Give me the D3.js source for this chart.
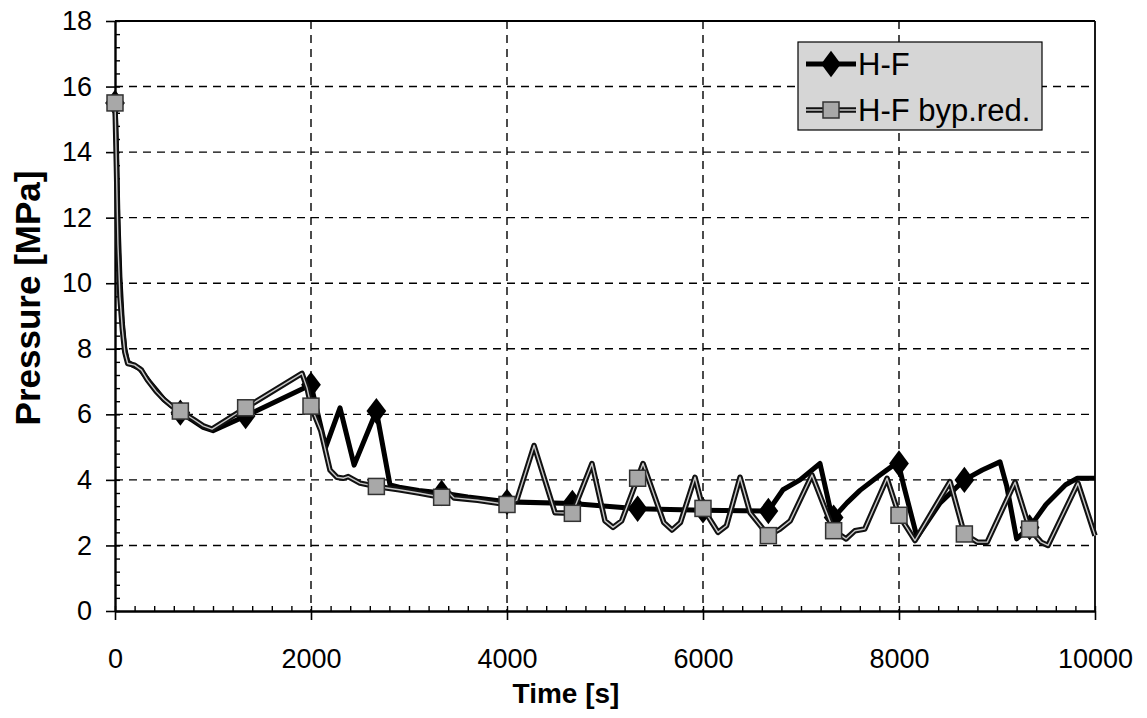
<!DOCTYPE html>
<html>
<head>
<meta charset="utf-8">
<script src="https://cdn.jsdelivr.net/npm/d3@7"></script>
<style>
  html, body { margin: 0; padding: 0; background: #fff; }
  svg { display: block; font-family: "Liberation Sans", Arial, sans-serif; }
</style>
</head>
<body>
<svg id="chart" width="1147" height="718"></svg>
<script>
// ---- data (time [s], pressure [MPa]) ----
const hfTime = [0,15,30,50,75,100,130,180,250,300,350,420,500,580,667,800,900,1000,1333,2000,2150,2296,2440,2667,2806,2900,3100,3333,3600,4000,4667,5333,6000,6667,6816,6990,7194,7316,7333,7469,7602,7806,7990,8050,8184,8420,8667,8850,9031,9100,9200,9333,9500,9700,9820,10000];
const hfP    = [15.5,14.2,12.0,10.2,8.8,8.0,7.6,7.5,7.4,7.2,7.0,6.75,6.45,6.25,6.05,5.8,5.6,5.5,5.95,6.9,5.0,6.2,4.45,6.1,3.85,3.78,3.68,3.6,3.48,3.33,3.28,3.12,3.07,3.05,3.7,4.0,4.5,2.87,2.85,3.3,3.68,4.15,4.55,3.8,2.25,3.3,4.0,4.3,4.55,3.8,2.2,2.55,3.25,3.85,4.05,4.05];

const bypTime = [0,15,30,50,75,100,130,200,270,330,420,500,580,667,800,900,990,1333,1908,1960,2000,2100,2194,2265,2330,2380,2500,2667,2900,3100,3333,3400,3460,3700,4000,4100,4276,4490,4667,4867,5000,5082,5170,5333,5388,5600,5684,5770,5918,6000,6153,6240,6378,6480,6667,6785,6890,7112,7333,7460,7550,7650,7878,8000,8163,8520,8667,8800,8900,9184,9333,9450,9520,9826,10000];
const bypP    = [15.5,13.5,11.2,9.6,8.6,7.9,7.55,7.5,7.35,7.05,6.7,6.45,6.25,6.1,5.85,5.65,5.55,6.2,7.25,6.8,6.25,5.5,4.3,4.08,4.05,4.1,3.9,3.8,3.7,3.6,3.47,3.62,3.45,3.38,3.25,3.38,5.05,3.0,2.98,4.5,2.75,2.55,2.75,4.05,4.5,2.7,2.47,2.7,4.08,3.13,2.4,2.6,4.08,3.0,2.3,2.5,2.75,4.15,2.45,2.2,2.45,2.5,4.05,2.92,2.15,3.95,2.35,2.1,2.1,3.93,2.5,2.1,2.0,3.9,2.3];

const markerTime = [0,667,1333,2000,2667,3333,4000,4667,5333,6000,6667,7333,8000,8667,9333];
const hfMarkerP  = [15.5,6.05,5.95,6.9,6.1,3.6,3.33,3.3,3.12,3.07,3.05,2.85,4.5,4.0,2.55];
const bypMarkerP = [15.5,6.1,6.2,6.25,3.8,3.47,3.25,2.98,4.05,3.13,2.3,2.45,2.92,2.35,2.5];

const xTicks = [0,2000,4000,6000,8000,10000];
const yTicks = [0,2,4,6,8,10,12,14,16,18];
const seriesNames = ["H-F","H-F byp.red."];
const xTitle = "Time [s]";
const yTitle = "Pressure [MPa]";

// ---- layout ----
const svg = d3.select("#chart");
const L = 115, R = 1095, T = 21, B = 611;
const x = d3.scaleLinear().domain([0,10000]).range([L,R]);
const y = d3.scaleLinear().domain([0,18]).range([B,T]);

// gridlines
const grid = svg.append("g");
grid.selectAll("line.gx").data(xTicks.filter(d => d>0 && d<10000)).join("line")
  .attr("x1", d=>x(d)).attr("x2", d=>x(d)).attr("y1", T).attr("y2", B)
  .attr("stroke","#000").attr("stroke-width",1.4).attr("stroke-dasharray","8,6");
grid.selectAll("line.gy").data(yTicks.filter(d => d>0 && d<18)).join("line")
  .attr("y1", d=>y(d)).attr("y2", d=>y(d)).attr("x1", L).attr("x2", R)
  .attr("stroke","#000").attr("stroke-width",1.4).attr("stroke-dasharray","8,6");

// top & right border
svg.append("line").attr("x1",L).attr("x2",R).attr("y1",T).attr("y2",T).attr("stroke","#000").attr("stroke-width",1.8);
svg.append("line").attr("x1",R).attr("x2",R).attr("y1",T).attr("y2",B).attr("stroke","#000").attr("stroke-width",1.8);

// minor ticks
const xMinor = d3.range(0,10001,200);
const yMinor = d3.range(0,18.01,0.4);
svg.append("g").attr("transform",`translate(0,${B})`)
  .call(d3.axisBottom(x).tickValues(xMinor).tickSize(-5).tickFormat(""))
  .call(g => g.select(".domain").remove())
  .selectAll("line").attr("stroke-width",1.4);
svg.append("g").attr("transform",`translate(${L},0)`)
  .call(d3.axisLeft(y).tickValues(yMinor).tickSize(-5).tickFormat(""))
  .call(g => g.select(".domain").remove())
  .selectAll("line").attr("stroke-width",1.4);

// major axes
const xAxis = svg.append("g").attr("transform",`translate(0,${B})`)
  .call(d3.axisBottom(x).tickValues(xTicks).tickSize(9).tickPadding(29).tickSizeOuter(0).tickFormat(d3.format("d")));
const yAxis = svg.append("g").attr("transform",`translate(${L},0)`)
  .call(d3.axisLeft(y).tickValues(yTicks).tickSize(9).tickPadding(14).tickSizeOuter(0).tickFormat(d3.format("d")));
[xAxis,yAxis].forEach(a => {
  a.select(".domain").attr("stroke-width",2.4);
  a.selectAll(".tick line").attr("stroke-width",1.6);
  a.selectAll("text").attr("font-size",27).attr("fill","#000")
    .attr("font-family",'"Liberation Sans", Arial, sans-serif');
});

// axis titles
svg.append("text").attr("x",566).attr("y",703).attr("text-anchor","middle")
  .attr("font-size",28).attr("font-weight","bold").text(xTitle);
svg.append("text").attr("transform",`translate(40,298) rotate(-90)`).attr("text-anchor","middle")
  .attr("font-size",35).attr("font-weight","bold").text(yTitle);

// lines
const line = d3.line().x(d=>x(d[0])).y(d=>y(d[1]));
const hfData = hfTime.map((t,i)=>[t,hfP[i]]);
const bypData = bypTime.map((t,i)=>[t,bypP[i]]);

svg.append("path").datum(hfData).attr("d",line).attr("fill","none")
  .attr("stroke","#000").attr("stroke-width",5).attr("stroke-linejoin","round");
const diamond = d3.symbol().type(d3.symbolDiamond).size(200);
svg.append("g").selectAll("path").data(markerTime.map((t,i)=>[t,hfMarkerP[i]])).join("path")
  .attr("d",diamond).attr("transform",d=>`translate(${x(d[0])},${y(d[1])}) scale(1.3,1)`)
  .attr("fill","#000");

svg.append("path").datum(bypData).attr("d",line).attr("fill","none")
  .attr("stroke","#111").attr("stroke-width",5.5).attr("stroke-linejoin","round");
svg.append("path").datum(bypData).attr("d",line).attr("fill","none")
  .attr("stroke","#c8c8c8").attr("stroke-width",1.4).attr("stroke-linejoin","round");
svg.append("g").selectAll("rect").data(markerTime.map((t,i)=>[t,bypMarkerP[i]])).join("rect")
  .attr("x",d=>x(d[0])-8).attr("y",d=>y(d[1])-8).attr("width",16).attr("height",16)
  .attr("fill","#a8a8a8").attr("stroke","#333").attr("stroke-width",1.5);

// legend
const lg = svg.append("g");
lg.append("rect").attr("x",798).attr("y",42).attr("width",244).attr("height",88)
  .attr("fill","#d6d6d6").attr("stroke","#000").attr("stroke-width",1.2);
const rowsY = [64, 110];
seriesNames.forEach((name,i) => {
  const yy = rowsY[i];
  if (i === 0) {
    lg.append("line").attr("x1",806).attr("x2",856).attr("y1",yy).attr("y2",yy).attr("stroke","#000").attr("stroke-width",5);
    lg.append("path").attr("d",diamond).attr("transform",`translate(831,${yy}) scale(1.3,1)`).attr("fill","#000");
  } else {
    lg.append("line").attr("x1",806).attr("x2",856).attr("y1",yy).attr("y2",yy).attr("stroke","#111").attr("stroke-width",5.5);
    lg.append("line").attr("x1",806).attr("x2",856).attr("y1",yy).attr("y2",yy).attr("stroke","#c8c8c8").attr("stroke-width",1.4);
    lg.append("rect").attr("x",823).attr("y",yy-8).attr("width",16).attr("height",16)
      .attr("fill","#a8a8a8").attr("stroke","#333").attr("stroke-width",1.5);
  }
  lg.append("text").attr("x",858).attr("y",yy).attr("dy","0.36em").attr("font-size",31).text(name);
});
</script>
</body>
</html>
